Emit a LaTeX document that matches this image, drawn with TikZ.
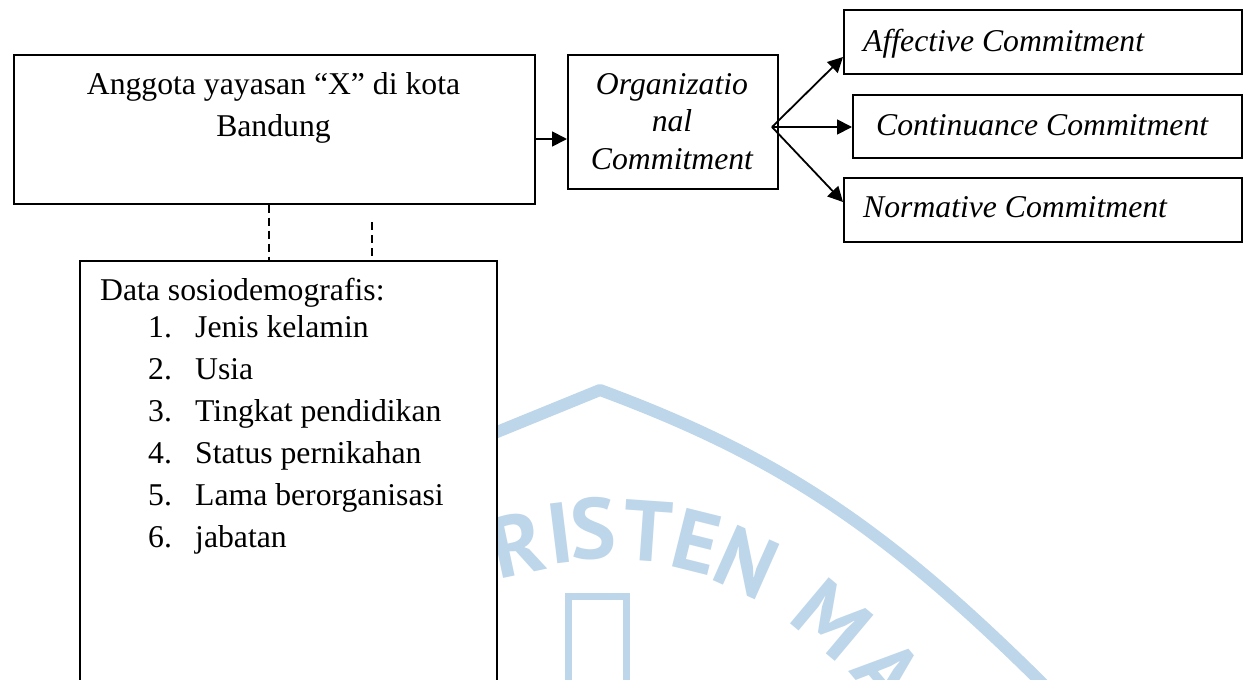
\documentclass[tikz,border=0pt]{standalone}
\usepackage{fontspec}
\setmainfont{Liberation Serif}
\newfontfamily\wmfont{PT Sans}
\usetikzlibrary{arrows.meta}
\definecolor{wm}{RGB}{190,214,234}
\begin{document}
\begin{tikzpicture}[x=1pt,y=-1pt,
  box/.style={draw,line width=1.6pt,inner sep=0pt,anchor=north west},
  txt/.style={inner sep=0pt,font=\fontsize{31.7}{38}\selectfont},
  itxt/.style={inner sep=0pt,font=\fontsize{31.7}{38}\selectfont\itshape},
  arr/.style={line width=1.8pt,-{Triangle[length=15pt,width=15pt]}},
  dashline/.style={line width=1.3pt,dash pattern=on 8pt off 5pt},
  wmletter/.style={text=wm,inner sep=0pt,font=\wmfont\bfseries\fontsize{86}{86}\selectfont}]
\useasboundingbox (0,0) rectangle (1248,680);
\clip (0,0) rectangle (1248,680);
% watermark
\draw[wm,line width=12pt,line join=round] (470,443) -- (600,390) .. controls (780,456.6) and (887,529) .. (1045,686);
\draw[wm,line width=7pt] (568.5,700) -- (568.5,596.5) -- (626.5,596.5) -- (626.5,700);
\foreach \l/\x/\y/\r in {R/517/544/12,I/560/533/7,S/593/529/2,T/648/531/-4,E/697/542/-14,N/747/562/-24,M/832/620/-40,A/888/672/-50}
  \node[wmletter,rotate=\r] (w\l) at (\x,\y) {\l};
% boxes
\node[box,minimum width=521pt,minimum height=149pt] (A) at (13,54) {};
\node[box,minimum width=210pt,minimum height=134pt] (org) at (567,54) {};
\node[box,minimum width=398pt,minimum height=64pt] (aff) at (843,9) {};
\node[box,minimum width=389pt,minimum height=63pt] (con) at (852,94) {};
\node[box,minimum width=398pt,minimum height=64pt] (nor) at (843,177) {};
\node[box,fill=white,minimum width=417pt,minimum height=460pt] (B) at (79,260) {};
% texts
\node[txt,anchor=base] (a1) at (273.5,94) {Anggota yayasan “X” di kota};
\node[txt,anchor=base] (a2) at (273.5,136) {Bandung};
\node[itxt,anchor=base] (o1) at (672,94) {Organizatio};
\node[itxt,anchor=base] (o2) at (672,131.5) {nal};
\node[itxt,anchor=base] (o3) at (672,169) {Commitment};
\node[itxt,anchor=base west] (t1) at (863,51) {Affective Commitment};
\node[itxt,anchor=base west] (t2) at (876,135) {Continuance Commitment};
\node[itxt,anchor=base west] (t3) at (863,217) {Normative Commitment};
\node[txt,anchor=base west] (l0) at (100,300) {Data sosiodemografis:};
\foreach \n/\s/\y in {1/Jenis kelamin/337,2/Usia/379,3/Tingkat pendidikan/421,4/Status pernikahan/463,5/Lama berorganisasi/505,6/jabatan/547}{
  \node[txt,anchor=base west] (n\n) at (148,\y) {\n.};
  \node[txt,anchor=base west] (i\n) at (195,\y) {\s};
}
% connectors
\coordinate (ay) at (0,139);
\draw[arr] (A.east |- ay) -- (org.west |- ay);
\coordinate (br) at (772,127);
\coordinate (ty1) at (0,57);
\coordinate (ty3) at (0,202);
\draw[arr] (br) -- (aff.west |- ty1);
\draw[arr] (br) -- (con.west |- br);
\draw[arr] (br) -- (nor.west |- ty3);
\coordinate (d1) at (269,0);
\draw[dashline] (A.south -| d1) -- (B.north -| d1);
\coordinate (d2) at (372,222);
\draw[dashline] (d2) -- (B.north -| d2);
\end{tikzpicture}
\end{document}
